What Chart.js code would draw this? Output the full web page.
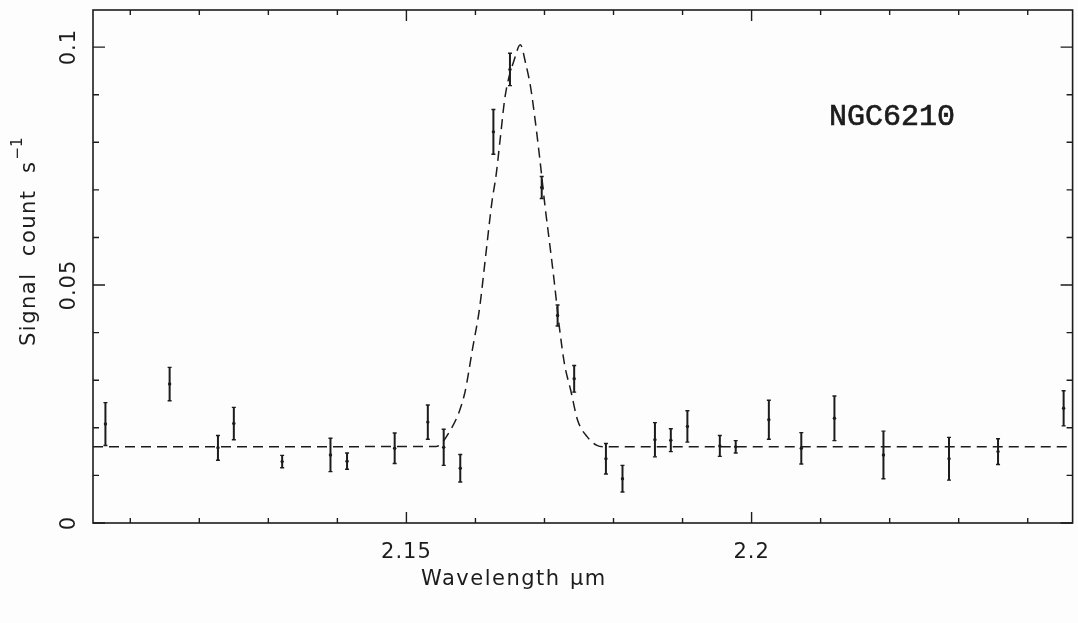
<!DOCTYPE html>
<html>
<head>
<meta charset="utf-8">
<script src="https://cdn.jsdelivr.net/npm/chart.js@4"></script>
<style>
  html, body { margin: 0; padding: 0; background: #fdfdfd; }
  #c { display: block; }
</style>
</head>
<body>
<canvas id="c" width="1078" height="623"></canvas>
<script>
// measured spectrum (wavelength in um, signal in count/s)
var wl = [2.1064, 2.1157, 2.1227, 2.1250, 2.1320, 2.1390, 2.1414, 2.1483, 2.1531, 2.1554,
          2.1578, 2.1626, 2.1650, 2.1696, 2.1719, 2.1743, 2.1789, 2.1813, 2.1860, 2.1883,
          2.1907, 2.1954, 2.1977, 2.2025, 2.2072, 2.2120, 2.2191, 2.2286, 2.2357, 2.2452];
var flux = [0.0208, 0.0292, 0.0158, 0.0209, 0.0129, 0.0143, 0.0130, 0.0157, 0.0212, 0.0159,
            0.0115, 0.0822, 0.0953, 0.0705, 0.0436, 0.0303, 0.0135, 0.0093, 0.0175, 0.0174,
            0.0203, 0.0162, 0.0160, 0.0217, 0.0157, 0.0220, 0.0143, 0.0135, 0.0150, 0.0241];
var err = [0.0045, 0.0035, 0.0026, 0.0034, 0.0013, 0.0035, 0.0017, 0.0032, 0.0036, 0.0038,
           0.0029, 0.0047, 0.0034, 0.0023, 0.0022, 0.0028, 0.0032, 0.0028, 0.0036, 0.0024,
           0.0033, 0.0022, 0.0013, 0.0041, 0.0033, 0.0047, 0.0050, 0.0045, 0.0027, 0.0037];

// fitted line profile (dashed)
var fitWl = [2.1046, 2.1543, 2.1560, 2.1584, 2.1596, 2.1606, 2.1615, 2.1624, 2.1630, 2.1636,
             2.1643, 2.1657, 2.1665, 2.1673, 2.1680, 2.1686, 2.1693, 2.1701, 2.1707, 2.1714,
             2.1721, 2.1729, 2.1738, 2.1748, 2.1762, 2.1776, 2.1788, 2.2465];
var fitVal = [0.0160, 0.0161, 0.0186, 0.0270, 0.0368, 0.0452, 0.0564, 0.0676, 0.0732, 0.0809,
              0.0897, 0.0977, 0.1005, 0.0964, 0.0915, 0.0852, 0.0768, 0.0663, 0.0593, 0.0509,
              0.0418, 0.0334, 0.0279, 0.0216, 0.0181, 0.0163, 0.0160, 0.0160];

// axis ticks
var xTicks = [2.11, 2.12, 2.13, 2.14, 2.15, 2.16, 2.17, 2.18, 2.19, 2.2, 2.21, 2.22, 2.23, 2.24];
var xLabels = {'2.15': '2.15', '2.2': '2.2'};
var yTicks = [0, 0.01, 0.02, 0.03, 0.04, 0.05, 0.06, 0.07, 0.08, 0.09, 0.1];
var yLabels = {'0': '0', '0.05': '0.05', '0.1': '0.1'};

var ink = '#1c1c1c';

var fitData = fitWl.map(function(v, i) { return {x: v, y: fitVal[i]}; });
var pointData = wl.map(function(v, i) { return {x: v, y: flux[i]}; });
var barData = [];
wl.forEach(function(v, i) {
    barData.push({x: v, y: flux[i] - err[i]});
    barData.push({x: v, y: flux[i] + err[i]});
    barData.push({x: v, y: null});
});

// frame, inward ticks and all the text
var framePlugin = {
    id: 'frame',
    afterDraw: function(chart) {
        var ctx = chart.ctx;
        var a = chart.chartArea;
        var sx = chart.scales.x, sy = chart.scales.y;
        ctx.save();
        ctx.strokeStyle = ink;
        ctx.fillStyle = ink;
        ctx.lineWidth = 1.6;
        ctx.strokeRect(a.left, a.top, a.right - a.left, a.bottom - a.top);

        ctx.lineWidth = 1.4;
        xTicks.forEach(function(v) {
            var px = sx.getPixelForValue(v);
            var len = xLabels[String(v)] ? 11 : 5;
            ctx.beginPath();
            ctx.moveTo(px, a.bottom); ctx.lineTo(px, a.bottom - len);
            ctx.moveTo(px, a.top); ctx.lineTo(px, a.top + len);
            ctx.stroke();
        });
        yTicks.forEach(function(v) {
            var py = sy.getPixelForValue(v);
            var len = yLabels[String(v)] ? 12 : 6;
            ctx.beginPath();
            ctx.moveTo(a.left, py); ctx.lineTo(a.left + len, py);
            ctx.moveTo(a.right, py); ctx.lineTo(a.right - len, py);
            ctx.stroke();
        });

        // x tick labels
        ctx.font = '21px "DejaVu Sans"';
        ctx.letterSpacing = '1px';
        ctx.textAlign = 'center';
        ctx.textBaseline = 'alphabetic';
        xTicks.forEach(function(v) {
            var t = xLabels[String(v)];
            if (t) ctx.fillText(t, sx.getPixelForValue(v), a.bottom + 35);
        });

        // y tick labels, rotated
        yTicks.forEach(function(v) {
            var t = yLabels[String(v)];
            if (!t) return;
            ctx.save();
            ctx.translate(a.left - 18, sy.getPixelForValue(v));
            ctx.rotate(-Math.PI / 2);
            ctx.fillText(t, 0, 0);
            ctx.restore();
        });

        // x title
        ctx.textAlign = 'left';
        ctx.letterSpacing = '1.5px';
        ctx.fillText('Wavelength', 421, a.bottom + 62);
        ctx.fillText('\u00b5m', 570, a.bottom + 62);

        // y title with superscript
        ctx.save();
        ctx.translate(35, 346);
        ctx.rotate(-Math.PI / 2);
        var main = 'Signal  count  s';
        ctx.fillText(main, 0, 0);
        var w = ctx.measureText(main).width;
        ctx.font = '15px "DejaVu Sans"';
        ctx.letterSpacing = '0px';
        ctx.fillText('\u22121', w + 1, -13);
        ctx.restore();

        // object name
        ctx.font = '30px "Liberation Mono"';
        ctx.letterSpacing = '0px';
        ctx.lineWidth = 0.7;
        ctx.fillText('NGC6210', 829, 125);
        ctx.strokeText('NGC6210', 829, 125);
        ctx.restore();
    }
};

var chart = new Chart(document.getElementById('c'), {
    type: 'line',
    data: {
        datasets: [{
            data: fitData,
            borderColor: ink,
            borderWidth: 1.5,
            borderDash: [10, 6],
            cubicInterpolationMode: 'monotone',
            pointRadius: 0,
            fill: false
        }, {
            data: barData,
            borderColor: ink,
            borderWidth: 2,
            spanGaps: false,
            pointStyle: 'line',
            pointRadius: 2,
            pointBorderWidth: 1.4,
            pointBorderColor: ink,
            fill: false
        }, {
            data: pointData,
            showLine: false,
            pointStyle: 'circle',
            pointRadius: 1.7,
            pointBorderWidth: 0,
            pointBackgroundColor: ink
        }]
    },
    options: {
        responsive: false,
        animation: false,
        layout: { padding: { left: 93, right: 4, top: 10, bottom: 100 } },
        plugins: { legend: { display: false }, tooltip: { enabled: false } },
        scales: {
            x: {
                type: 'linear',
                display: false,
                min: 2.1046,
                max: 2.2465,
                grid: { display: false },
                afterBuildTicks: function(axis) {
                    axis.ticks = xTicks.map(function(v) { return {value: v}; });
                }
            },
            y: {
                type: 'linear',
                display: false,
                min: 0,
                max: 0.1078,
                grid: { display: false },
                afterBuildTicks: function(axis) {
                    axis.ticks = yTicks.map(function(v) { return {value: v}; });
                }
            }
        }
    },
    plugins: [framePlugin]
});
</script>
</body>
</html>
